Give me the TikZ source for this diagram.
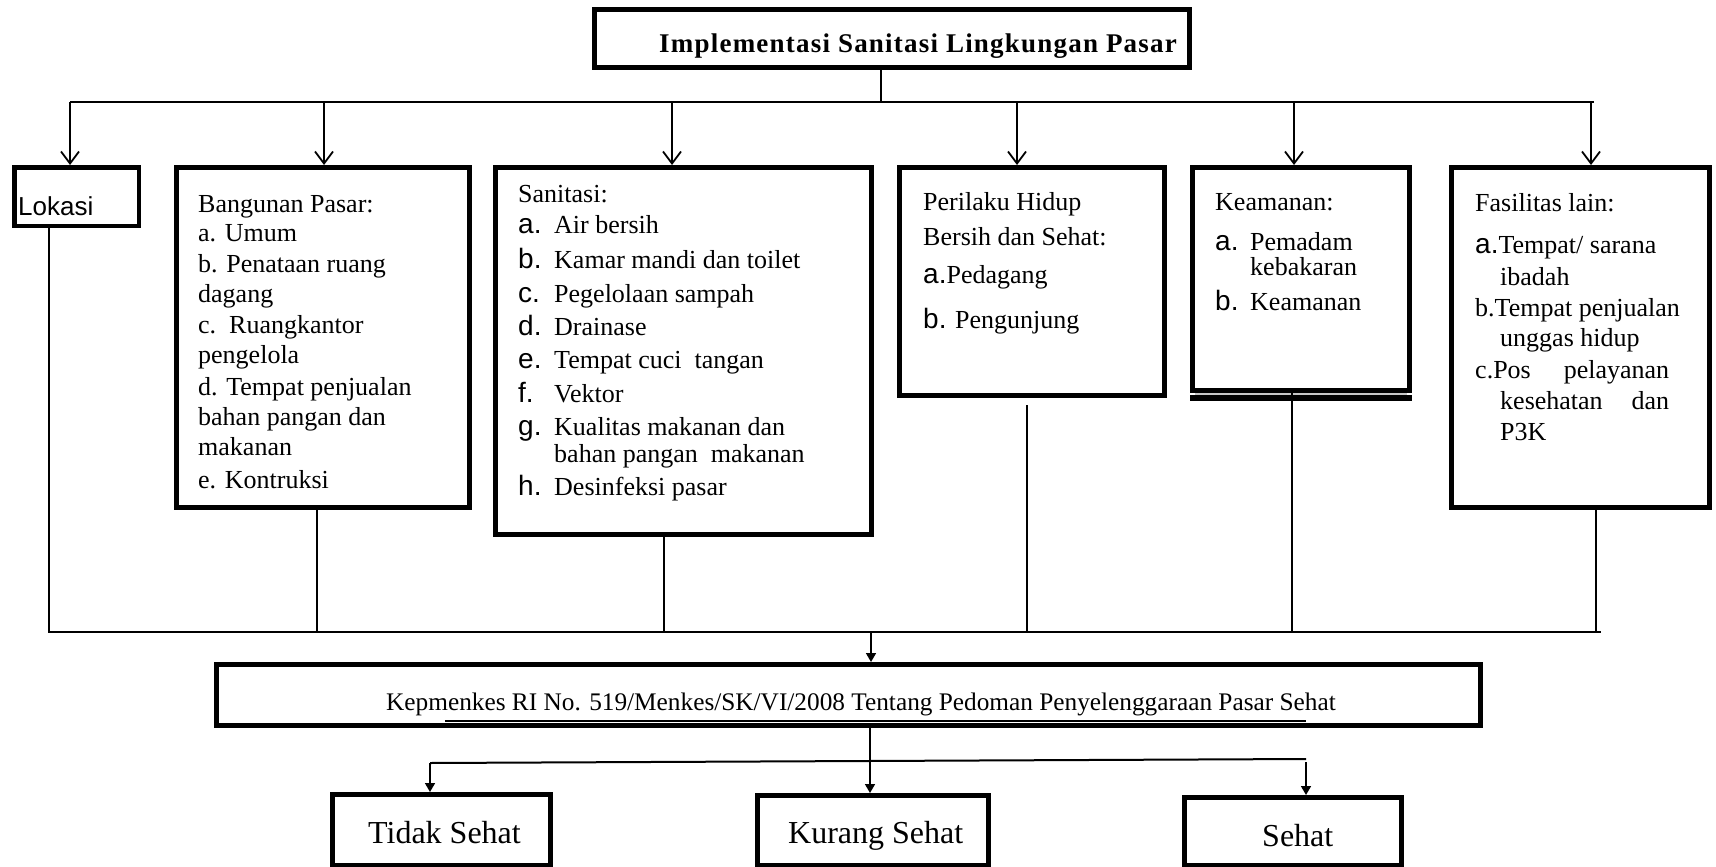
\documentclass[tikz,border=0pt]{standalone}
\usepackage{fontspec}
\setmainfont{Liberation Serif}
\newfontfamily\arialf{Liberation Sans}
\newfontfamily\titlef[LetterSpace=4.5]{Liberation Serif}
\usetikzlibrary{arrows.meta}
\newcommand{\fsz}[1]{\fontsize{#1}{#1}\selectfont}
\newcommand{\sfl}[1]{{\arialf\fontsize{28}{28}\selectfont #1}}
\newcommand{\itm}[3]{\makebox[#1][l]{\sfl{#2}}#3}
\begin{document}
\begin{tikzpicture}[x=1pt,y=-1pt,
  box/.style={draw, line width=5pt, inner sep=0pt, rectangle},
  txt/.style={anchor=base west, inner sep=0pt, font=\fsz{26}},
  conn/.style={line width=1.8pt},
  thin/.style={line width=1.6pt},
  varr/.style={conn, -{Straight Barb[length=12pt,width=18pt]}},
  farr/.style={thin, -{Triangle[length=9pt,width=10pt]}},
]
\useasboundingbox (0,0) rectangle (1716,867);

% ---------- boxes ----------
\node[box, minimum width=595pt, minimum height=58pt] (title) at (892,38.5) {};
\node[box, line width=4.5pt, minimum width=124.5pt, minimum height=58.5pt] (lok) at (76.5,196.5) {};
\node[box, minimum width=293pt, minimum height=340pt] (bang) at (323,337.5) {};
\node[box, minimum width=376pt, minimum height=367pt] (san) at (683.5,351) {};
\node[box, minimum width=265pt, minimum height=228pt] (phbs) at (1032,281.5) {};
\node[box, minimum width=217pt, minimum height=223pt] (kem) at (1301,279) {};
\node[box, minimum width=258pt, minimum height=340pt] (fas) at (1580.5,337.5) {};
\node[box, minimum width=1264pt, minimum height=61pt] (kep) at (848.5,695) {};
\node[box, minimum width=218pt, minimum height=71pt] (tidak) at (441.5,830) {};
\node[box, minimum width=231pt, minimum height=70pt] (kurang) at (873,830.5) {};
\node[box, minimum width=217pt, minimum height=68pt] (sehat) at (1293,831.5) {};

% double bottom border of Keamanan
\draw[line width=6pt] (kem.south west |- 0,398) -- (kem.south east |- 0,398);
\draw[gray!45, line width=1.6pt] (1195,394.2) -- (1407,394.2);

% ---------- texts ----------
\node[txt] (tt) at (659,53) {\titlef\fontsize{27}{27}\selectfont\bfseries Implementasi Sanitasi Lingkungan Pasar};

\node[txt] (lk) at (18,215) {\arialf Lokasi};

\node[txt] (b0) at (198,212) {Bangunan Pasar:};
\node[txt] (b1) at (198,241) {a. Umum};
\node[txt] (b2) at (198,272) {b. Penataan ruang};
\node[txt] (b3) at (198,302) {dagang};
\node[txt] (b4) at (198,333) {c.\ \ Ruangkantor};
\node[txt] (b5) at (198,363) {pengelola};
\node[txt] (b6) at (198,395) {d. Tempat penjualan};
\node[txt] (b7) at (198,425) {bahan pangan dan};
\node[txt] (b8) at (198,455) {makanan};
\node[txt] (b9) at (198,488) {e. Kontruksi};

\node[txt] (s0) at (518,202) {Sanitasi:};
\node[txt] (s1) at (518,233) {\itm{36pt}{a.}{Air bersih}};
\node[txt] (s2) at (518,268) {\itm{36pt}{b.}{Kamar mandi dan toilet}};
\node[txt] (s3) at (518,302) {\itm{36pt}{c.}{Pegelolaan sampah}};
\node[txt] (s4) at (518,335) {\itm{36pt}{d.}{Drainase}};
\node[txt] (s5) at (518,368) {\itm{36pt}{e.}{Tempat cuci\ \ tangan}};
\node[txt] (s6) at (518,402) {\itm{36pt}{f.}{Vektor}};
\node[txt] (s7) at (518,435) {\itm{36pt}{g.}{Kualitas makanan dan}};
\node[txt] (s8) at (554,462) {bahan pangan\ \ makanan};
\node[txt] (s9) at (518,495) {\itm{36pt}{h.}{Desinfeksi pasar}};

\node[txt] (p0) at (923,210) {Perilaku Hidup};
\node[txt] (p1) at (923,245) {Bersih dan Sehat:};
\node[txt] (p2) at (923,283) {\sfl{a.}Pedagang};
\node[txt] (p3) at (923,328) {\sfl{b.} Pengunjung};

\node[txt] (k0) at (1215,210) {Keamanan:};
\node[txt] (k1) at (1215,250) {\itm{35pt}{a.}{Pemadam}};
\node[txt] (k2) at (1250,275) {kebakaran};
\node[txt] (k3) at (1215,310) {\itm{35pt}{b.}{Keamanan}};

\node[txt] (f0) at (1475,211) {Fasilitas lain:};
\node[txt] (f1) at (1475,253) {\sfl{a.}Tempat/ sarana};
\node[txt] (f2) at (1500,285) {ibadah};
\node[txt] (f3) at (1475,316) {b.Tempat penjualan};
\node[txt] (f4) at (1500,346) {unggas hidup};
\node[txt] (f5) at (1475,378) {\hbox to 194pt{c.Pos\hfill pelayanan}};
\node[txt] (f6) at (1500,409) {\hbox to 169pt{kesehatan\hfill dan}};
\node[txt] (f7) at (1500,440) {P3K};

\node[txt, font=\fsz{25.3}] (kt) at (386,710) {Kepmenkes RI No. 519/Menkes/SK/VI/2008 Tentang Pedoman Penyelenggaraan Pasar Sehat};
\draw[line width=2.2pt] (445,721) -- (1306,721);

\node[txt, font=\fsz{32}] (tdt) at (368,843) {Tidak Sehat};
\node[txt, font=\fsz{32}] (kst) at (788,843) {Kurang Sehat};
\node[txt, font=\fsz{32}] (st) at (1262,846) {Sehat};

% ---------- connectors (top) ----------
\coordinate (tj) at (881,102);
\coordinate (tl) at (70,102);
\coordinate (tr) at (1594,102);
\draw[conn] (title.south -| tj) -- (tj);
\draw[conn] (tl) -- (tr);
\coordinate (a1) at (70,102);
\coordinate (a2) at (324,102);
\coordinate (a3) at (672,102);
\coordinate (a4) at (1017,102);
\coordinate (a5) at (1294,102);
\coordinate (a6) at (1591,102);
\draw[varr] (a1) -- (a1 |- lok.north);
\draw[varr] (a2) -- (a2 |- bang.north);
\draw[varr] (a3) -- (a3 |- san.north);
\draw[varr] (a4) -- (a4 |- phbs.north);
\draw[varr] (a5) -- (a5 |- kem.north);
\draw[varr] (a6) -- (a6 |- fas.north);

% ---------- connectors (bottom collection) ----------
\coordinate (d1) at (49,632);
\coordinate (d2) at (317,632);
\coordinate (d3) at (664,632);
\coordinate (d4) at (1027,632);
\coordinate (d4s) at (1027,405);
\coordinate (d5) at (1292,632);
\coordinate (d6) at (1596,632);
\coordinate (bl) at (48,632);
\coordinate (br) at (1601,632);
\draw[thin] (d1 |- lok.south) -- (d1);
\draw[thin] (d2 |- bang.south) -- (d2);
\draw[thin] (d3 |- san.south) -- (d3);
\draw[thin] (d4s) -- (d4);
\draw[thin] (d5 |- kem.south) -- (d5);
\draw[thin] (d6 |- fas.south) -- (d6);
\draw[line width=2pt] (bl) -- (br);
\coordinate (km) at (871,632);
\draw[farr] (km) -- (km |- kep.north);

% ---------- connectors (result) ----------
\coordinate (kx) at (870,763);
\draw[farr] (kep.south -| kx) -- (kurang.north -| kx);
\coordinate (hl) at (430,763);
\coordinate (hr) at (1306,759);
\draw[line width=2pt] (hl) -- (hr);
\draw[farr] (hl) -- (hl |- tidak.north);
\coordinate (hr2) at (1306,762);
\draw[farr] (hr2) -- (hr2 |- sehat.north);
\end{tikzpicture}
\end{document}
